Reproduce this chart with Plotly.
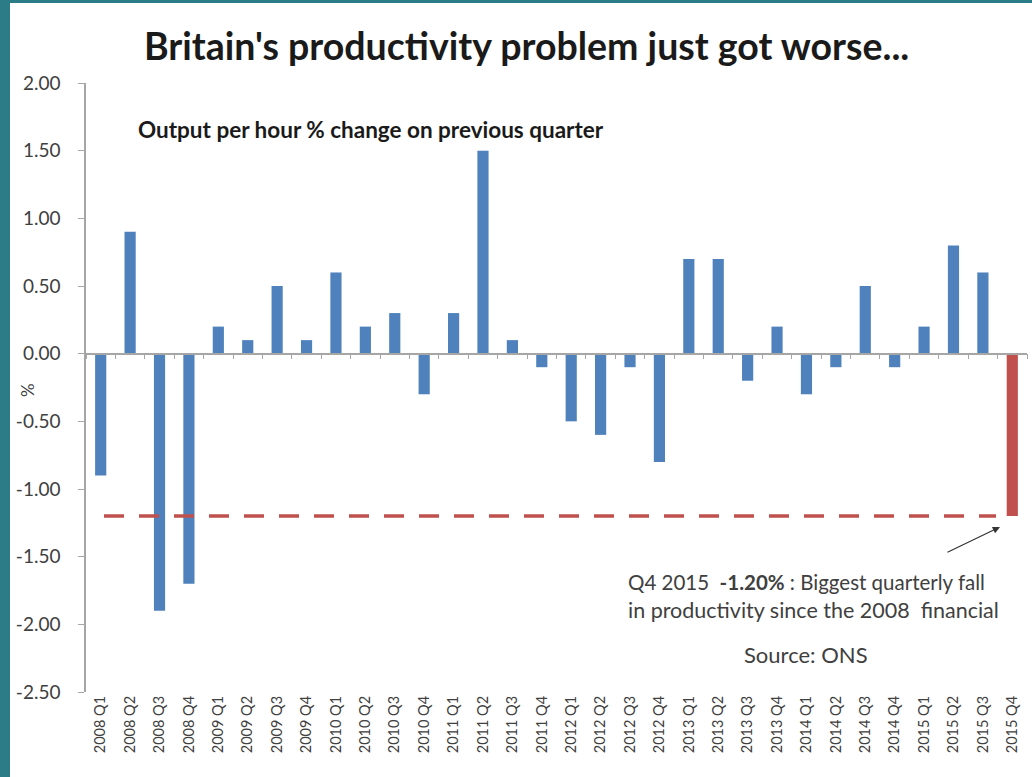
import plotly.graph_objects as go

quarters = [f"{y} Q{q}" for y in range(2008, 2016) for q in range(1, 5)]
values = [-0.9, 0.9, -1.9, -1.7,
          0.2, 0.1, 0.5, 0.1,
          0.6, 0.2, 0.3, -0.3,
          0.3, 1.5, 0.1, -0.1,
          -0.5, -0.6, -0.1, -0.8,
          0.7, 0.7, -0.2, 0.2,
          -0.3, -0.1, 0.5, -0.1,
          0.2, 0.8, 0.6, -1.2]
y_ticks = [2.0, 1.5, 1.0, 0.5, 0.0, -0.5, -1.0, -1.5, -2.0, -2.5]

BLUE = "#4F81BD"
RED = "#C0504D"
colors = [BLUE] * (len(values) - 1) + [RED]

W, H = 1032, 777
L, R, T, B = 86, 5, 83, 85
PW, PH = W - L - R, H - T - B
ymin, ymax = -2.5, 2.0


def px(xp):
    return (xp - L) / PW


def py(yp):
    return (H - B - yp) / PH


fig = go.Figure()
fig.add_trace(go.Bar(x=quarters, y=values, marker=dict(color=colors, line=dict(width=0)),
                     width=0.38, hoverinfo="x+y", showlegend=False))
# helper trace for the zero-line axis with tick marks between categories
fig.add_trace(go.Scatter(x=quarters, y=[0] * len(quarters), xaxis="x2", mode="markers",
                         marker=dict(opacity=0), hoverinfo="skip", showlegend=False))

font_family = "Lato, 'Open Sans', sans-serif"

fig.update_layout(
    width=W, height=H,
    margin=dict(l=L, r=R, t=T, b=B),
    paper_bgcolor="white",
    plot_bgcolor="white",
    font=dict(family=font_family, color="#404040"),
    xaxis=dict(type="category", categoryorder="array", categoryarray=quarters,
               range=[-0.5, len(quarters) - 0.5], tickangle=-90,
               tickfont=dict(size=14.5, color="#404040"), showline=False, ticks="",
               showgrid=False, zeroline=False, fixedrange=True),
    xaxis2=dict(type="category", categoryorder="array", categoryarray=quarters,
                range=[-0.5, len(quarters) - 0.5], overlaying="x", anchor="free",
                position=(0 - ymin) / (ymax - ymin), showline=True, linecolor="#A6A6A6",
                linewidth=1.5, ticks="outside", ticklen=5, tickcolor="#A6A6A6",
                tickson="boundaries", showticklabels=False, showgrid=False, zeroline=False),
    yaxis=dict(range=[ymin, ymax], tickvals=y_ticks,
               ticktext=[f"{v:.2f}" for v in y_ticks],
               ticks="outside", ticklen=6, tickcolor="#A6A6A6", showline=True,
               linecolor="#A6A6A6", linewidth=1.5, showgrid=False, zeroline=False,
               ticklabelstandoff=14,
               tickfont=dict(size=19, color="#404040")),
    bargap=0.62,
)

# dashed reference line at latest value
fig.add_shape(type="line", xref="paper", yref="y", x0=px(104), x1=px(996),
              y0=values[-1], y1=values[-1],
              line=dict(color=RED, width=3.5, dash="20px,15px"))

# teal frame
fig.add_shape(type="rect", xref="paper", yref="paper", x0=px(0), x1=px(10),
              y0=py(H), y1=py(0), fillcolor="#2B7C87", line=dict(width=0), layer="above")
fig.add_shape(type="rect", xref="paper", yref="paper", x0=px(0), x1=px(W),
              y0=py(3), y1=py(0), fillcolor="#2B7C87", line=dict(width=0), layer="above")

ann = []
ann.append(dict(text="<b>Britain's productivity problem just got worse...</b>",
                xref="paper", yref="paper", x=px(526), y=py(45), xanchor="center",
                yanchor="middle", showarrow=False, font=dict(size=37.5, color="#1a1a1a")))
ann.append(dict(text="<b>Output per hour % change on previous quarter</b>",
                xref="paper", yref="paper", x=px(136), y=py(129), xanchor="left",
                yanchor="middle", showarrow=False, font=dict(size=22.5, color="#1a1a1a")))
ann.append(dict(text="%", xref="paper", yref="paper", x=px(28), y=py(390),
                xanchor="center", yanchor="middle", textangle=-90, showarrow=False,
                font=dict(size=17, color="#404040")))
ann.append(dict(text="Q4 2015  <b>-1.20%</b> : Biggest quarterly fall",
                xref="paper", yref="paper", x=px(626), y=py(582), xanchor="left",
                yanchor="middle", showarrow=False, font=dict(size=20.5, color="#404040")))
ann.append(dict(text="in productivity since the 2008  financial",
                xref="paper", yref="paper", x=px(626), y=py(610), xanchor="left",
                yanchor="middle", showarrow=False, font=dict(size=21.5, color="#404040")))
ann.append(dict(text="Source: ONS", xref="paper", yref="paper", x=px(806), y=py(654),
                xanchor="center", yanchor="middle", showarrow=False,
                font=dict(size=22, color="#404040")))
ann.append(dict(text="", xref="paper", yref="paper", x=px(1000), y=py(527),
                ax=-54, ay=26, showarrow=True, arrowhead=2, arrowsize=1.2,
                arrowwidth=1.2, arrowcolor="#333333"))
fig.update_layout(annotations=ann)

fig.write_html("out.html", config={"displayModeBar": False},
               post_script="document.body.style.margin='0';document.body.style.overflow='hidden';")
